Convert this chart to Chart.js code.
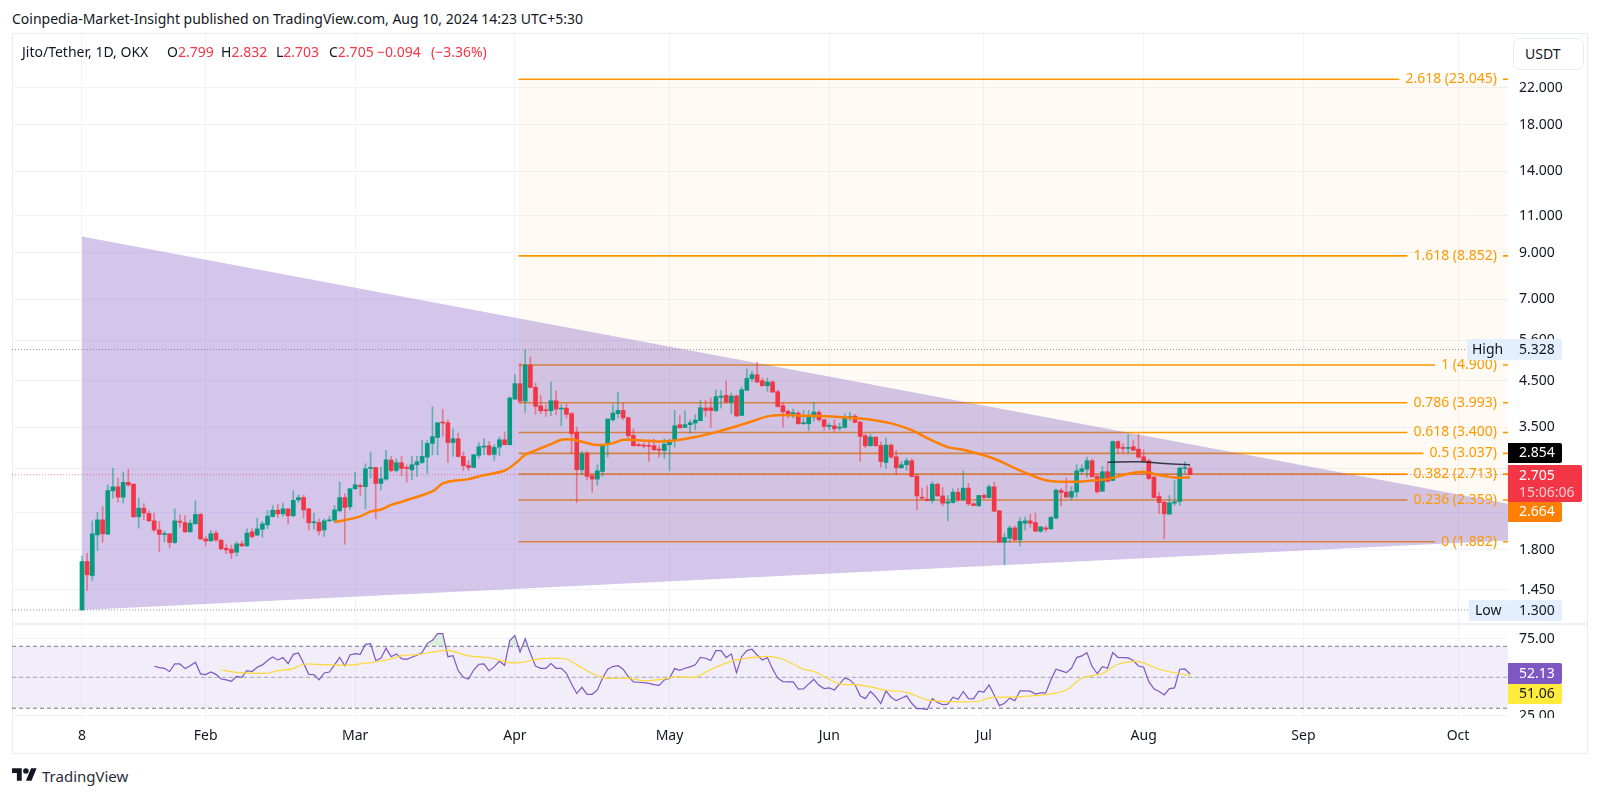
<!DOCTYPE html>
<html>
<head>
<meta charset="utf-8">
<title>Jito/Tether</title>
<script src="https://cdn.jsdelivr.net/npm/chart.js@4/dist/chart.umd.min.js"></script>
<style>
    html, body { margin: 0; padding: 0; background: #fff; width: 1600px; height: 796px; overflow: hidden; }
    body { font-family: "Noto Sans", sans-serif; color: #131722; position: relative; }
    canvas { position: absolute; left: 0; }
    #priceCanvas { top: 33px; }
    #rsiCanvas { top: 624px; }
    .txt { position: absolute; white-space: pre; font-size: 14px; line-height: 18px; }
    .red { color: #f23645; }
    #frame { position: absolute; left: 12px; top: 33px; width: 1574px; height: 719px; border: 1px solid #e9ecf3; }
    #sep { position: absolute; left: 12px; top: 623px; width: 1575px; height: 2px; background: #eef0f6; }
    #usdt { position: absolute; left: 1513px; top: 38px; width: 69px; height: 30px; border: 1px solid #e9ebf3; border-radius: 7px; background: #fff; font-size: 14px; line-height: 30px; text-indent: 11px; }
    #logo { position: absolute; left: 12px; top: 768px; }
</style>
</head>
<body>
<div id="frame"></div>
<div id="sep"></div>
<canvas id="priceCanvas" width="1600" height="591"></canvas>
<canvas id="rsiCanvas" width="1600" height="129"></canvas>
<div id="usdt">USDT</div>

<div class="txt" style="left:12px;top:10px">Coinpedia-Market-Insight published on TradingView.com, Aug 10, 2024 14:23 UTC+5:30</div>
<div class="txt" style="left:22px;top:43px">Jito/Tether, 1D, OKX</div>
<div class="txt" style="left:167px;top:43px">O<span class="red">2.799</span></div>
<div class="txt" style="left:221px;top:43px">H<span class="red">2.832</span></div>
<div class="txt" style="left:276px;top:43px">L<span class="red">2.703</span></div>
<div class="txt" style="left:329px;top:43px">C<span class="red">2.705</span></div>
<div class="txt red" style="left:377px;top:43px">−0.094</div>
<div class="txt red" style="left:431px;top:43px">(−3.36%)</div>

<svg id="logo" width="25" height="13" viewBox="0 4 36 18"><path fill="#131722" d="M14 22H7V11H0V4h14v18zM28 22h-8l7.5-18h8L28 22z"/><circle fill="#131722" cx="20" cy="8" r="4"/></svg>
<div class="txt" style="left:42px;top:766px;font-size:15px;line-height:20px;color:#2a2e39">TradingView</div>

<script>
// daily candles, first one is 8 Jan 2024, last one 10 Aug 2024
const open = [
    1.30,1.69,1.567,1.953,2.118,1.96,2.479,2.533,2.395,2.594,
    2.571,2.154,2.257,2.193,2.107,2.006,1.957,1.964,1.874,2.1,
    2.088,1.985,2.073,2.181,1.91,1.89,1.971,1.897,1.817,1.807,
    1.778,1.86,1.84,1.985,1.95,2.013,2.062,2.158,2.232,2.189,
    2.248,2.165,2.36,2.39,2.248,2.085,2.088,2.006,2.107,2.115,
    2.224,2.39,2.273,2.506,2.547,2.537,2.798,2.814,2.58,2.641,
    2.927,2.768,2.886,2.809,2.778,2.855,2.891,2.976,3.205,3.31,
    3.592,3.585,3.22,3.286,2.987,2.844,2.814,3.003,3.142,3.165,
    3.019,3.142,3.268,3.182,4.075,4.429,4.03,4.902,4.342,3.931,
    3.838,3.825,4.038,3.859,3.881,3.765,3.407,2.778,3.041,2.69,
    2.641,2.754,3.21,3.643,3.765,3.832,3.683,3.346,3.176,3.176,
    3.17,3.165,3.107,3.085,3.182,3.268,3.547,3.495,3.547,3.579,
    3.624,3.881,3.888,3.825,4.113,4.158,4.003,4.143,3.73,4.271,
    4.55,4.651,4.501,4.381,4.469,4.241,3.931,3.812,3.765,3.778,
    3.566,3.566,3.697,3.791,3.643,3.514,3.527,3.482,3.495,3.677,
    3.717,3.598,3.34,3.165,3.317,3.17,2.891,3.176,2.981,2.809,
    2.855,2.917,2.685,2.395,2.369,2.352,2.57,2.412,2.319,2.327,
    2.461,2.36,2.515,2.31,2.286,2.418,2.39,2.533,2.224,1.877,
    1.918,2.028,1.90,2.08,2.107,2.088,1.992,2.028,2.017,2.138,
    2.483,2.461,2.395,2.465,2.754,2.788,2.917,2.68,2.474,2.749,
    2.622,3.238,3.131,3.119,3.148,3.107,2.981,2.917,2.67,2.404,
    2.331,2.185,2.319,2.34,2.798,2.799
];
const high = [
    1.742,1.768,2.107,2.205,2.277,2.56,2.803,2.655,2.744,2.788,
    2.571,2.382,2.31,2.224,2.197,2.1,1.995,1.964,2.248,2.177,
    2.169,2.118,2.348,2.197,1.935,1.999,1.999,1.907,1.86,1.85,
    1.883,1.89,2.017,2.02,2.138,2.1,2.228,2.289,2.306,2.319,
    2.248,2.474,2.427,2.418,2.257,2.197,2.13,2.13,2.158,2.289,
    2.599,2.44,2.515,2.739,2.575,2.87,3.057,2.814,2.819,3.085,
    2.987,2.949,2.987,2.855,2.987,2.987,3.257,3.257,3.91,3.585,
    3.852,3.643,3.469,3.389,3.057,2.917,3.014,3.22,3.286,3.238,
    3.182,3.317,3.413,4.12,4.651,4.937,5.328,5.118,4.445,4.15,
    3.953,4.469,4.263,3.953,3.974,3.791,3.501,3.069,3.069,2.705,
    2.855,3.182,3.656,3.953,4.226,3.988,3.697,3.463,3.211,3.211,
    3.268,3.28,3.165,3.286,3.28,3.832,3.73,3.825,3.643,3.745,
    4.046,4.046,4.098,4.286,4.271,4.493,4.21,4.173,4.35,4.804,
    4.735,4.972,4.567,4.567,4.509,4.286,4.002,3.845,3.859,3.812,
    3.832,3.832,4.002,3.832,3.643,3.579,3.643,3.579,3.765,3.791,
    3.745,3.611,3.377,3.365,3.317,3.228,3.299,3.199,3.085,2.906,
    2.96,2.949,2.705,2.515,2.548,2.608,2.584,2.524,2.418,2.506,
    2.515,2.763,2.584,2.327,2.418,2.44,2.56,2.599,2.232,1.971,
    2.05,2.05,2.146,2.15,2.185,2.197,2.043,2.05,2.158,2.501,
    2.51,2.655,2.537,2.855,2.855,2.976,2.943,2.705,2.829,2.881,
    3.25,3.25,3.199,3.365,3.257,3.371,3.096,2.943,2.68,2.461,
    2.34,2.418,2.622,2.819,2.901,2.832
];
const low = [
    1.30,1.445,1.525,1.794,1.874,1.96,2.382,2.331,2.319,2.537,
    2.146,2.025,2.118,2.1,1.988,1.784,1.88,1.82,1.86,2.035,
    1.978,1.981,2.073,1.907,1.84,1.886,1.883,1.80,1.762,1.717,
    1.742,1.833,1.833,1.918,1.943,1.928,2.02,2.15,2.146,2.158,
    2.073,2.158,2.327,2.138,2.006,2.013,1.953,1.935,2.096,2.088,
    2.216,1.856,2.236,2.501,2.418,2.248,2.655,2.134,2.492,2.622,
    2.749,2.744,2.69,2.599,2.631,2.68,2.87,2.729,3.014,3.014,
    3.33,2.891,2.987,2.976,2.768,2.768,2.809,2.96,3.014,2.998,
    2.922,2.998,3.176,3.182,4.06,3.987,3.791,4.326,3.751,3.765,
    3.71,3.724,3.745,3.528,3.677,3.03,2.327,2.705,2.631,2.457,
    2.553,2.68,2.976,3.611,3.677,3.643,3.299,3.153,3.153,3.125,
    2.906,3.085,2.976,2.954,2.768,3.142,3.475,3.488,3.389,3.45,
    3.624,3.71,3.495,3.812,3.881,3.988,3.765,3.71,3.724,4.271,
    4.485,4.461,4.365,4.249,4.226,3.895,3.501,3.677,3.677,3.553,
    3.547,3.438,3.611,3.611,3.438,3.45,3.42,3.438,3.482,3.624,
    3.579,2.906,3.125,3.153,3.153,2.819,2.798,2.96,2.705,2.798,
    2.768,2.67,2.236,2.36,2.344,2.319,2.404,2.286,2.107,2.319,
    2.34,2.36,2.289,2.286,2.277,2.372,2.386,2.216,1.874,1.66,
    1.874,1.893,1.84,2.006,2.035,1.988,1.978,1.988,2.013,2.134,
    2.286,2.395,2.36,2.395,2.72,2.665,2.67,2.447,2.47,2.603,
    2.618,3.03,3.052,3.041,3.08,2.96,2.906,2.631,2.385,2.189,
    1.91,2.185,2.289,2.289,2.729,2.703
];
const close = [
    1.69,1.573,1.964,2.118,1.964,2.483,2.533,2.395,2.594,2.56,
    2.154,2.257,2.197,2.107,2.006,1.957,1.964,1.874,2.107,2.092,
    1.985,2.08,2.181,1.91,1.89,1.964,1.90,1.81,1.80,1.771,
    1.86,1.84,1.971,1.935,2.017,2.073,2.161,2.232,2.189,2.248,
    2.165,2.356,2.39,2.236,2.085,2.096,1.995,2.107,2.118,2.236,
    2.39,2.265,2.506,2.56,2.537,2.793,2.814,2.58,2.646,2.932,
    2.768,2.886,2.798,2.798,2.855,2.901,2.987,3.205,3.323,3.585,
    3.579,3.22,3.286,2.987,2.839,2.814,3.014,3.147,3.159,3.019,
    3.136,3.268,3.182,4.098,4.429,4.03,4.902,4.342,3.917,3.825,
    3.825,4.038,3.859,3.874,3.751,3.377,2.778,3.03,2.68,2.641,
    2.763,3.165,3.656,3.778,3.832,3.683,3.34,3.165,3.165,3.159,
    3.153,3.096,3.09,3.193,3.238,3.527,3.488,3.547,3.585,3.637,
    3.888,3.832,3.832,4.128,4.143,4.01,4.143,3.717,4.286,4.557,
    4.651,4.469,4.381,4.469,4.233,3.917,3.805,3.765,3.778,3.566,
    3.579,3.697,3.798,3.643,3.514,3.534,3.469,3.501,3.677,3.71,
    3.592,3.328,3.165,3.317,3.165,2.906,3.176,2.976,2.809,2.855,
    2.917,2.68,2.412,2.382,2.352,2.57,2.412,2.319,2.335,2.461,
    2.36,2.515,2.31,2.289,2.418,2.39,2.533,2.22,1.877,1.925,
    2.028,1.90,2.10,2.107,2.08,1.992,2.039,2.013,2.146,2.488,
    2.457,2.395,2.47,2.763,2.793,2.917,2.675,2.465,2.749,2.608,
    3.238,3.125,3.119,3.131,3.09,2.976,2.911,2.65,2.39,2.327,
    2.189,2.323,2.335,2.804,2.809,2.705
];

// orange moving average, read at these days
const maDays = [49,51,54,56,58,60,62,64,68,70,72,75,77,82,84,86,88,91,93,95,97,100,103,105,108,112,115,119,123,126,130,133,136,139,143,148,152,157,161,164,168,171,177,182,187,192,196,199,203,206,209,212,215];
const maValues = [2.092,2.114,2.158,2.216,2.24,2.298,2.335,2.378,2.47,2.58,2.617,2.641,2.68,2.768,2.87,3.014,3.085,3.193,3.268,3.274,3.234,3.176,3.21,3.268,3.262,3.238,3.257,3.317,3.407,3.488,3.611,3.71,3.738,3.724,3.717,3.69,3.656,3.572,3.444,3.299,3.142,3.096,2.949,2.768,2.626,2.603,2.622,2.641,2.719,2.749,2.699,2.665,2.664];

// short black line near the last candles
const blackDays = [199,205,210,215];
const blackValues = [2.895,2.9,2.875,2.854];

// purple triangle
const triangleDays = [0,277];
const triangleUpper = [9.83,2.309];
const triangleLower = [1.3,1.895];

// fib levels
const fibLevels = [0,0.236,0.382,0.5,0.618,0.786,1,1.618,2.618];
const fibPrices = [1.882,2.359,2.713,3.037,3.4,3.993,4.9,8.852,23.045];
const fibStartDay = 84.7;

const highPrice = 5.328;
const lowPrice = 1.3;
const lastPrice = 2.705;

const priceTicks = [22,18,14,11,9,7,5.6,4.5,3.5,2.8,2.2,1.8,1.45];
// these two only show as grid lines, the axis boxes cover their labels
const hiddenPriceLabels = [2.8,2.2];
const xTickDays = [0,24,53,84,114,145,175,206,237,267];
const xTickLabels = ['8','Feb','Mar','Apr','May','Jun','Jul','Aug','Sep','Oct'];

// RSI starts on day 14
const rsiStartDay = 14;
const rsiValues = [
    57.1,56.2,55.8,53.7,58.6,58.6,55.6,57.5,59.7,52.2,51.7,53.4,51.9,48.9,48.3,47.4,
    50.6,50,54.3,53.7,56.5,58,60.8,63.1,61.2,62.7,58.8,64.8,65.7,59,51.9,51.7,
    48.3,52.8,53.4,58,62.9,57.3,64.4,65.3,64.8,71.3,71.7,60.8,62.3,68.7,63.3,65.1,
    62,61.6,62.9,64.2,65.9,71.9,73.9,78.2,78.2,63.3,64,54.3,50,48.9,54.7,58.4,
    58.6,54.1,56.9,60.3,57.7,73.7,76.9,66.3,74.9,65.5,57.3,55.8,55.8,58.8,55.8,55.8,
    52.6,45.7,39.5,43.5,39,39,41.8,49.4,55.2,56.9,57.5,55.2,50.4,47,46.8,46.6,
    46.1,45.3,44.8,48.3,49.4,55.6,54.5,55.8,56.7,58,62.9,62.3,60.8,67.2,67.2,62.7,
    65.1,53,63.3,67.2,68.1,64.4,61.2,62.7,55.4,49.4,47.2,47,47,42.3,42.5,45.7,
    48.7,44.8,42.7,43.1,41.8,45.7,49.6,48.3,45.1,38,36.2,40.8,37.5,33,41.2,37.1,
    34.9,36.5,38,33.2,29.8,29.8,29.1,36.2,33.7,32.4,32.6,37.1,35.8,40.8,36.2,36,
    41,40.5,45.1,38.6,31.7,33.2,36.5,34.9,41.2,41.2,41,39.2,39.9,39.9,48.3,55.2,
    54.1,53,55.8,62.7,63.8,65.9,56.9,52.4,56.9,55.8,65.9,62.9,62.7,62.5,60.8,57.3,
    56.5,47.2,42.5,40.8,38.6,42.7,43.1,55.2,55.4,52.13
];
const rsiMaDays = [27,30,36,38,41,43,47,51,56,60,62,65,71,75,79,83,85,89,94,96,101,106,109,113,115,119,120,123,127,133,136,140,142,147,150,153,156,160,164,168,174,176,181,187,191,194,198,201,205,209,215];
const rsiMaValues = [54.7,53.2,52.6,54.3,55.6,58.4,58.2,57.7,59.5,61.8,64,64.6,67.4,63.8,62.7,59.5,59.5,62,61.8,58,49.8,49.4,47.8,48.9,50.2,50,51.5,56.5,61.2,63.5,61.6,55.2,53.7,45.7,45.3,43.8,41.6,40.3,35.4,34.3,34.5,36.7,37.3,38.8,41.8,49.4,52.4,58.4,60.1,55.2,51.06];
const rsiTicks = [75,50,25];

// layout of the panes, in px
const xMinDay = -13.58, xMaxDay = 276.7;
const plotLeft = 12, plotRight = 1508, axisWidth = 79;
const FONT = '14px "Noto Sans", sans-serif';
const GRID = '#f0f3fa';
const GREEN = '#089981', RED = '#f23645';
const FIB = '#ff9800';

Chart.defaults.font.family = '"Noto Sans", sans-serif';
Chart.defaults.font.size = 14;
Chart.defaults.color = '#131722';

const pxPerDay = (plotRight - plotLeft) / (xMaxDay - xMinDay);
const pxToDay = (px) => xMinDay + (px - plotLeft) / pxPerDay;

function pts(xs, ys) {
    return xs.map((x, i) => ({ x: x, y: ys[i] }));
}

function hline(value, color, dash, width, order) {
    return {
        type: 'line', data: pts([xMinDay, xMaxDay], [value, value]),
        borderColor: color, borderDash: dash, borderWidth: width, pointRadius: 0, order: order
    };
}

function fibLabel(i) {
    return fibLevels[i] + ' (' + fibPrices[i].toFixed(3) + ')';
}

// the chart area has to stay at the exact pane size, no room for half labels
function fixSize(s, w, h) {
    if (w !== null) s.width = w;
    if (h !== null) s.height = h;
    s.paddingTop = 0;
    s.paddingBottom = 0;
    s.paddingLeft = 0;
    s.paddingRight = 0;
}

// fib line stops before its label and comes back with a small piece after it
const measure = document.createElement('canvas').getContext('2d');
measure.font = FONT;

function fibLine(i) {
    const v = fibPrices[i];
    const gapStart = pxToDay(1497 - measure.measureText(fibLabel(i)).width - 6);
    const gapEnd = pxToDay(1503);
    return {
        type: 'line',
        data: [{ x: fibStartDay, y: v }, { x: gapStart, y: v }, { x: gapStart, y: null }, { x: gapEnd, y: v }, { x: xMaxDay, y: v }],
        borderColor: FIB, borderWidth: 1.6, pointRadius: 0, spanGaps: false, order: 20
    };
}

function drawBox(ctx, x, y, w, h, bg, text, fg, inset) {
    ctx.fillStyle = bg;
    ctx.beginPath();
    ctx.roundRect(x, y, w, h, [0, 2, 2, 0]);
    ctx.fill();
    ctx.fillStyle = fg;
    ctx.textAlign = 'left';
    ctx.textBaseline = 'middle';
    ctx.font = FONT;
    ctx.fillText(text, x + (inset === undefined ? 11 : inset), y + h / 2 + 0.5);
}

const days = open.map((_, i) => i);
const candleColor = close.map((c, i) => c >= open[i] ? GREEN : RED);
const wickColor = close.map((c, i) => c >= open[i] ? 'rgba(8,153,129,.55)' : 'rgba(242,54,69,.55)');

const priceLabels = {
    id: 'priceLabels',
    afterDraw(chart) {
        const ctx = chart.ctx;
        const yScale = chart.scales.y;
        const top = chart.canvas.offsetTop;
        ctx.save();
        ctx.font = FONT;
        ctx.textAlign = 'right';
        ctx.textBaseline = 'middle';
        ctx.fillStyle = FIB;
        fibLevels.forEach((l, i) => {
            ctx.fillText(fibLabel(i), 1497, yScale.getPixelForValue(fibPrices[i]));
        });
        // boxes on the axis
        drawBox(ctx, 1467, 339 - top, 41, 21, '#e3effd', 'High', '#131722', 5);
        drawBox(ctx, 1508, 339 - top, 54, 21, '#e3effd', highPrice.toFixed(3), '#131722');
        drawBox(ctx, 1469, 600 - top, 39, 21, '#e3effd', 'Low', '#131722', 6);
        drawBox(ctx, 1508, 600 - top, 54, 21, '#e3effd', lowPrice.toFixed(3), '#131722');
        drawBox(ctx, 1508, 443 - top, 54, 20, '#000000', blackValues[blackValues.length - 1].toFixed(3), '#ffffff');
        drawBox(ctx, 1508, 465 - top, 74, 37, RED, '', '#ffffff');
        ctx.textAlign = 'left';
        ctx.fillStyle = '#ffffff';
        ctx.fillText(lastPrice.toFixed(3), 1519, 476 - top);
        ctx.fillStyle = 'rgba(255,255,255,.75)';
        ctx.fillText('15:06:06', 1519, 493 - top);
        drawBox(ctx, 1508, 502 - top, 54, 20, '#ff7f00', maValues[maValues.length - 1].toFixed(3), '#ffffff');
        ctx.restore();
    }
};

new Chart(document.getElementById('priceCanvas'), {
    type: 'line',
    data: {
        datasets: [
            // fib background
            { data: pts([fibStartDay, xMaxDay], [fibPrices[8], fibPrices[8]]), borderWidth: 0, pointRadius: 0, fill: '+1', backgroundColor: 'rgba(255,152,0,.045)', order: 30 },
            { data: pts([fibStartDay, xMaxDay], [fibPrices[0], fibPrices[0]]), borderWidth: 0, pointRadius: 0, order: 30 },
            ...fibLevels.map((l, i) => fibLine(i)),
            // triangle
            { data: pts(triangleDays, triangleUpper), borderWidth: 0, pointRadius: 0, fill: '+1', backgroundColor: 'rgba(126,87,194,.34)', order: 10 },
            { data: pts(triangleDays, triangleLower), borderWidth: 0, pointRadius: 0, order: 10 },
            hline(highPrice, 'rgba(120,123,134,.8)', [1, 2], 1, 9),
            hline(lowPrice, 'rgba(120,123,134,.8)', [1, 2], 1, 9),
            hline(lastPrice, 'rgba(242,54,69,.6)', [1, 2], 1, 9),
            // candles: wicks then bodies
            {
                type: 'bar', data: days.map(i => ({ x: i, y: [low[i], high[i]] })),
                backgroundColor: wickColor, barThickness: 1, grouped: false, order: 5
            },
            {
                type: 'bar', data: days.map(i => ({ x: i, y: [Math.min(open[i], close[i]), Math.max(open[i], close[i])] })),
                backgroundColor: candleColor, barThickness: 4, minBarLength: 1, grouped: false, order: 4
            },
            { data: pts(maDays, maValues), borderColor: '#ff7f00', borderWidth: 2.5, pointRadius: 0, tension: 0.3, order: 2 },
            { data: pts(blackDays, blackValues), borderColor: 'rgba(19,23,34,.8)', borderWidth: 1.5, pointRadius: 0, tension: 0.3, order: 1 }
        ]
    },
    options: {
        responsive: false,
        animation: false,
        devicePixelRatio: 1,
        layout: { autoPadding: false, padding: { left: plotLeft, right: 1600 - plotRight - axisWidth, top: 0, bottom: 0 } },
        plugins: { legend: { display: false }, tooltip: { enabled: false } },
        scales: {
            x: {
                type: 'linear', min: xMinDay, max: xMaxDay, offset: false,
                grid: { color: GRID, drawTicks: false, offset: false },
                border: { display: false },
                ticks: { display: false },
                afterBuildTicks: (s) => { s.ticks = xTickDays.map(v => ({ value: v })); },
                afterFit: (s) => fixSize(s, null, 0)
            },
            y: {
                type: 'logarithmic', position: 'right', min: 1.205, max: 29.6, bounds: 'data',
                grid: { color: GRID, drawTicks: false },
                border: { display: false },
                ticks: {
                    padding: 11, autoSkip: false,
                    callback: (v) => hiddenPriceLabels.includes(v) ? '' : v.toFixed(3)
                },
                afterBuildTicks: (s) => { s.ticks = priceTicks.map(v => ({ value: v })); },
                afterFit: (s) => fixSize(s, axisWidth, null)
            }
        }
    },
    plugins: [priceLabels]
});

const rsiLabels = {
    id: 'rsiLabels',
    afterDraw(chart) {
        const ctx = chart.ctx;
        const top = chart.canvas.offsetTop;
        ctx.save();
        // pane ends at 718, the 25.00 label is cut there
        ctx.clearRect(plotRight, 718 - top, axisWidth, 5);
        drawBox(ctx, 1508, 663 - top, 54, 21, '#7e57c2', rsiValues[rsiValues.length - 1].toFixed(2), '#ffffff');
        drawBox(ctx, 1508, 684 - top, 54, 20, '#ffeb3b', rsiMaValues[rsiMaValues.length - 1].toFixed(2), '#131722');
        ctx.restore();
    }
};

const rsiPoints = rsiValues.map((v, i) => ({ x: rsiStartDay + i, y: v }));

new Chart(document.getElementById('rsiCanvas'), {
    type: 'line',
    data: {
        datasets: [
            { data: pts([xMinDay, xMaxDay], [70, 70]), borderWidth: 0, pointRadius: 0, fill: '+1', backgroundColor: 'rgba(126,87,194,.1)', order: 10 },
            { data: pts([xMinDay, xMaxDay], [30, 30]), borderWidth: 0, pointRadius: 0, order: 10 },
            hline(70, '#787b86', [4, 3], 1, 9),
            hline(50, 'rgba(120,123,134,.6)', [4, 3], 1, 9),
            hline(30, '#787b86', [4, 3], 1, 9),
            {
                data: rsiPoints, borderColor: '#7e57c2', borderWidth: 1.2, pointRadius: 0, order: 3,
                fill: { target: { value: 70 }, above: 'rgba(76,175,80,.2)', below: 'transparent' }
            },
            { data: pts(rsiMaDays, rsiMaValues), borderColor: '#fdd835', borderWidth: 1.2, pointRadius: 0, tension: 0.3, order: 2 }
        ]
    },
    options: {
        responsive: false,
        animation: false,
        devicePixelRatio: 1,
        layout: { autoPadding: false, padding: { left: plotLeft, right: 1600 - plotRight - axisWidth, top: 0, bottom: 0 } },
        plugins: { legend: { display: false }, tooltip: { enabled: false } },
        scales: {
            x: {
                type: 'linear', min: xMinDay, max: xMaxDay,
                grid: { color: GRID, drawTicks: false },
                border: { display: false },
                ticks: {
                    padding: 10, autoSkip: false, maxRotation: 0,
                    callback: (v) => xTickLabels[xTickDays.indexOf(v)]
                },
                afterBuildTicks: (s) => { s.ticks = xTickDays.map(v => ({ value: v })); },
                afterFit: (s) => fixSize(s, null, 35)
            },
            y: {
                position: 'right', min: 23.7, max: 84.4,
                grid: { color: GRID, drawTicks: false },
                border: { display: false },
                ticks: { padding: 11, autoSkip: false, callback: (v) => v.toFixed(2) },
                afterBuildTicks: (s) => { s.ticks = rsiTicks.map(v => ({ value: v })); },
                afterFit: (s) => fixSize(s, axisWidth, null)
            }
        }
    },
    plugins: [rsiLabels]
});
</script>
</body>
</html>
